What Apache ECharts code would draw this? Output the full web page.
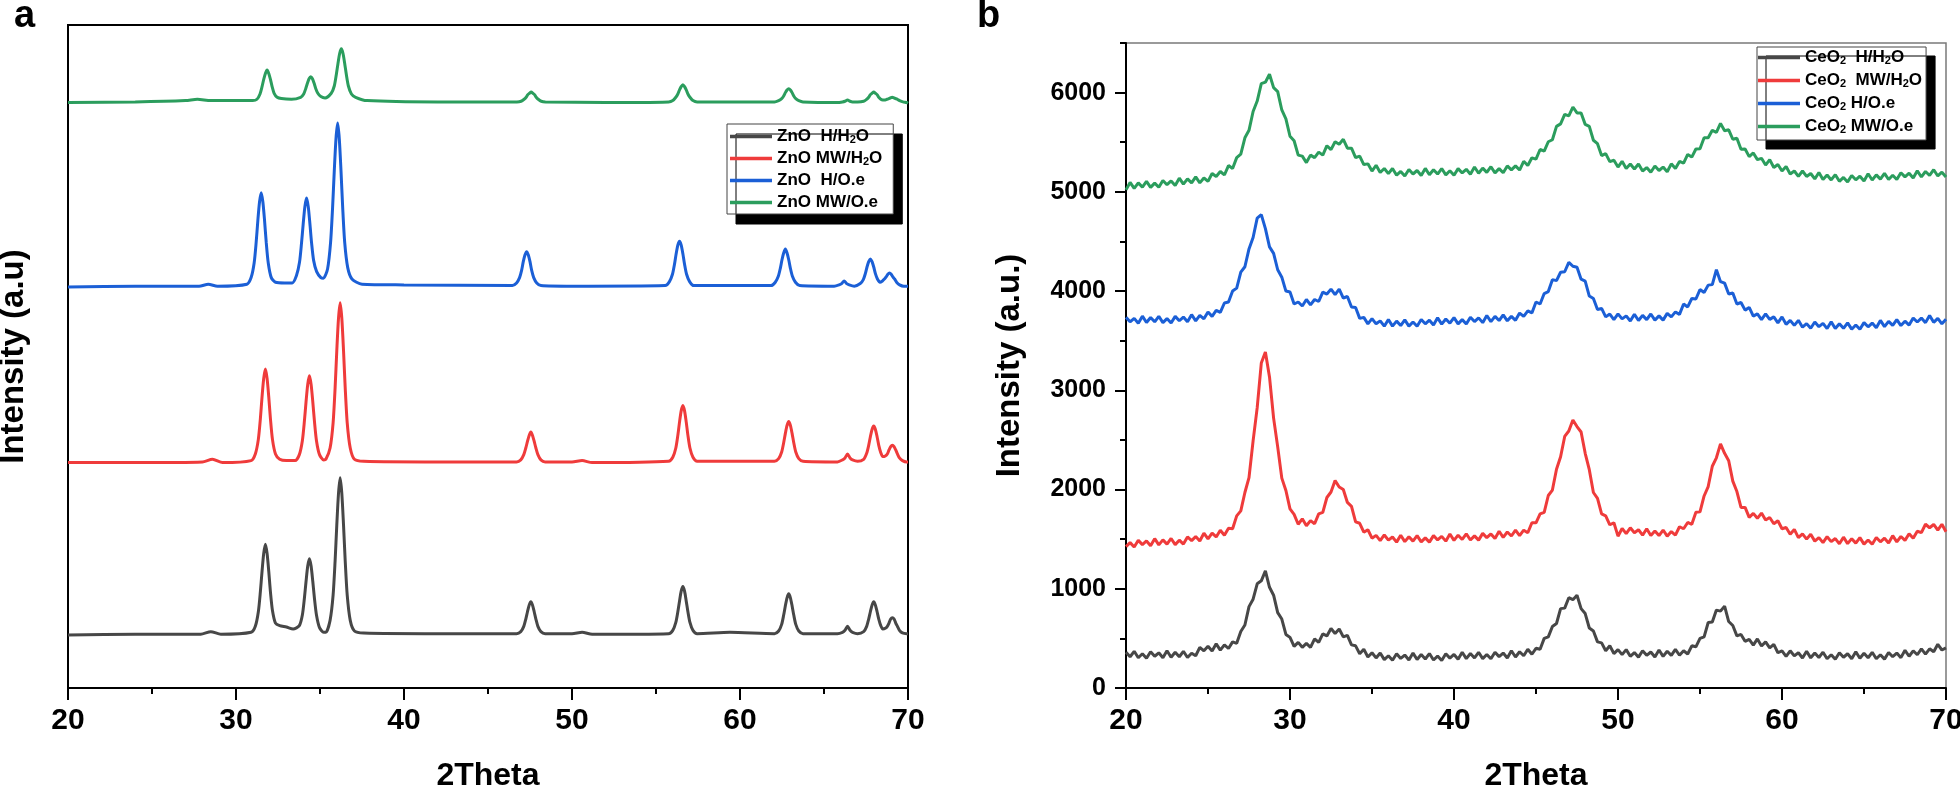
<!DOCTYPE html>
<html>
<head>
<meta charset="utf-8">
<title>XRD patterns ZnO / CeO2</title>
<script src="https://cdn.jsdelivr.net/npm/echarts@6/dist/echarts.min.js"></script>
<style>
  html, body { margin: 0; padding: 0; background: #fff; }
  #chart { width: 1960px; height: 789px; }
</style>
</head>
<body>
<div id="chart"></div>
<script>
// ---------- data ----------
const znoNames = ['ZnO  H/H2O', 'ZnO MW/H2O', 'ZnO  H/O.e', 'ZnO MW/O.e'];
const ceNames = ['CeO2  H/H2O', 'CeO2  MW/H2O', 'CeO2 H/O.e', 'CeO2 MW/O.e'];
const lineColors = ['#474747', '#ef3b3b', '#1b5fd6', '#2b9d5d'];
const ceMajorTicks = [0, 1000, 2000, 3000, 4000, 5000, 6000];
const ceMinorTicks = [500, 1500, 2500, 3500, 4500, 5500, 6500];

// panel a : [2theta, intensity] (stacked patterns, arbitrary units 0..1000)
const znoHH2O = [[20,80],[24,81],[27.9,81],[28.5,85],[29.1,81],[30.9,84],[31.15,93],[31.33,115],[31.45,145],[31.55,176],[31.65,203],[31.75,217],[31.85,203],[31.95,176],[32.05,145],[32.17,117],[32.35,98],[32.6,94],[33.0,92],[33.4,89],[33.77,94],[33.95,110],[34.07,135],[34.17,161],[34.27,184],[34.37,195],[34.47,184],[34.57,161],[34.67,135],[34.79,110],[34.97,91],[35.22,84],[35.35,84],[35.6,102],[35.78,140],[35.9,192],[36.0,246],[36.1,293],[36.2,317],[36.3,293],[36.4,246],[36.5,192],[36.62,140],[36.8,102],[37.05,86],[37.6,83],[42,82],[46.7,82],[46.95,85],[47.13,93],[47.25,104],[47.35,115],[47.45,125],[47.55,130],[47.65,125],[47.75,115],[47.85,104],[47.97,93],[48.15,85],[48.4,82],[50,82],[50.6,84],[51.2,81],[55.75,82],[56.0,87],[56.18,99],[56.3,115],[56.4,131],[56.5,146],[56.6,153],[56.7,146],[56.8,131],[56.9,115],[57.02,99],[57.2,87],[57.45,82],[59.4,84],[62.05,82],[62.3,86],[62.48,96],[62.6,110],[62.7,124],[62.8,136],[62.9,142],[63.0,136],[63.1,124],[63.2,110],[63.32,96],[63.5,86],[63.75,82],[65.8,82],[66.1,84],[66.25,87],[66.4,93],[66.55,87],[66.7,84],[67.0,82],[67.36,85],[67.54,93],[67.66,104],[67.76,115],[67.86,125],[67.96,130],[68.06,125],[68.16,115],[68.26,104],[68.38,94],[68.5,89],[68.65,90],[68.77,93],[68.87,98],[68.97,104],[69.07,106],[69.17,104],[69.27,98],[69.37,93],[69.49,87],[69.67,83],[69.92,82],[70,82]];
const znoMWH2O = [[20,340],[24,340],[28.0,341],[28.6,345],[29.2,340],[30.9,343],[31.15,353],[31.33,375],[31.45,406],[31.55,439],[31.65,467],[31.75,481],[31.85,467],[31.95,439],[32.05,406],[32.17,375],[32.35,353],[32.6,345],[33.0,343],[33.52,343],[33.77,352],[33.95,373],[34.07,402],[34.17,432],[34.27,458],[34.37,471],[34.47,458],[34.57,432],[34.67,402],[34.79,373],[34.97,352],[35.22,344],[35.35,345],[35.6,362],[35.78,400],[35.9,453],[36.0,509],[36.1,557],[36.2,581],[36.3,557],[36.4,509],[36.5,453],[36.62,400],[36.8,362],[37.05,345],[37.6,342],[42,341],[46.7,341],[46.95,344],[47.13,352],[47.25,362],[47.35,372],[47.45,381],[47.55,386],[47.65,381],[47.75,372],[47.85,362],[47.97,352],[48.15,344],[48.4,341],[50,341],[50.6,343],[51.2,340],[55.75,342],[56.0,348],[56.18,362],[56.3,381],[56.4,401],[56.5,418],[56.6,426],[56.7,418],[56.8,401],[56.9,381],[57.02,362],[57.2,348],[57.45,342],[62.05,342],[62.3,346],[62.48,356],[62.6,370],[62.7,384],[62.8,396],[62.9,402],[63.0,396],[63.1,384],[63.2,370],[63.32,356],[63.5,346],[63.75,342],[65.8,341],[66.1,344],[66.25,347],[66.4,353],[66.55,347],[66.7,344],[67.0,342],[67.36,345],[67.54,354],[67.66,366],[67.76,379],[67.86,390],[67.96,395],[68.06,390],[68.16,379],[68.26,366],[68.38,355],[68.5,349],[68.65,350],[68.77,353],[68.87,359],[68.97,364],[69.07,366],[69.17,364],[69.27,359],[69.37,353],[69.49,347],[69.67,343],[69.92,341],[70,341]];
const znoHOe = [[20,605],[24,606],[27.8,606],[28.35,609],[28.9,606],[30.65,609],[30.9,619],[31.08,641],[31.2,672],[31.3,705],[31.4,733],[31.5,747],[31.6,733],[31.7,705],[31.8,672],[31.92,641],[32.1,619],[32.35,612],[32.9,611],[33.35,611],[33.6,622],[33.78,642],[33.9,671],[34.0,700],[34.1,726],[34.2,739],[34.3,726],[34.4,700],[34.5,671],[34.62,645],[34.8,628],[35.05,619],[35.2,618],[35.45,632],[35.63,672],[35.75,725],[35.85,780],[35.95,828],[36.05,852],[36.15,828],[36.25,780],[36.35,725],[36.47,672],[36.65,634],[36.9,617],[37.5,609],[40,608],[46.45,607],[46.7,611],[46.88,619],[47.0,630],[47.1,643],[47.2,653],[47.3,658],[47.4,653],[47.5,643],[47.6,630],[47.72,619],[47.9,611],[48.15,607],[50,606],[55.55,607],[55.8,613],[55.98,624],[56.1,639],[56.2,655],[56.3,668],[56.4,674],[56.5,668],[56.6,655],[56.7,639],[56.82,624],[57.0,613],[57.25,607],[61.85,607],[62.1,612],[62.28,621],[62.4,633],[62.5,646],[62.6,656],[62.7,662],[62.8,656],[62.9,646],[63.0,633],[63.12,621],[63.3,612],[63.55,607],[65.6,606],[65.9,608],[66.05,610],[66.2,614],[66.35,610],[66.5,608],[66.8,606],[67.16,610],[67.34,616],[67.46,625],[67.56,635],[67.66,643],[67.76,647],[67.86,643],[67.96,635],[68.06,625],[68.18,617],[68.33,612],[68.48,614],[68.6,617],[68.7,620],[68.8,624],[68.9,626],[69.0,624],[69.1,620],[69.2,617],[69.32,612],[69.5,608],[69.75,606],[70,606]];
const znoMWOe = [[20,883],[24,884],[27.0,886],[27.7,888],[28.5,886],[30.8,886],[31.0,886],[31.25,888],[31.43,896],[31.55,907],[31.65,918],[31.75,927],[31.85,932],[31.95,927],[32.05,918],[32.15,907],[32.27,897],[32.45,891],[32.7,889],[33.3,888],[33.85,891],[34.03,896],[34.15,904],[34.25,912],[34.35,919],[34.45,922],[34.55,919],[34.65,912],[34.75,904],[34.87,897],[35.05,892],[35.3,890],[35.67,897],[35.85,908],[35.97,925],[36.07,942],[36.17,957],[36.27,964],[36.37,957],[36.47,942],[36.57,925],[36.69,908],[36.87,896],[37.12,891],[37.8,886],[42,884],[46.72,884],[46.97,885],[47.15,888],[47.27,891],[47.37,895],[47.47,897],[47.57,899],[47.67,897],[47.77,895],[47.87,891],[47.99,888],[48.17,885],[48.42,884],[52,883],[55.75,884],[56.0,886],[56.18,891],[56.3,896],[56.4,902],[56.5,907],[56.6,910],[56.7,907],[56.8,902],[56.9,896],[57.02,891],[57.2,886],[57.45,884],[62.05,884],[62.3,886],[62.48,889],[62.6,893],[62.7,898],[62.8,902],[62.9,904],[63.0,902],[63.1,898],[63.2,893],[63.32,889],[63.5,886],[63.75,884],[65.8,883],[66.1,884],[66.25,885],[66.4,887],[66.55,885],[66.7,884],[67.0,884],[67.36,885],[67.54,888],[67.66,891],[67.76,895],[67.86,897],[67.96,899],[68.06,897],[68.16,895],[68.26,891],[68.38,888],[68.5,887],[68.65,887],[68.76,888],[68.86,889],[68.96,890],[69.06,891],[69.16,890],[69.26,889],[69.36,888],[69.5,886],[69.7,884],[69.92,883],[70,882]];

// panel b : 2theta grid and intensities (a.u.)
const ceTheta = [20,20.25,20.5,20.75,21,21.25,21.5,21.75,22,22.25,22.5,22.75,23,23.25,23.5,23.75,24,24.25,24.5,24.75,25,25.25,25.5,25.75,26,26.25,26.5,26.75,27,27.25,27.5,27.75,28,28.25,28.5,28.75,29,29.25,29.5,29.75,30,30.25,30.5,30.75,31,31.25,31.5,31.75,32,32.25,32.5,32.75,33,33.25,33.5,33.75,34,34.25,34.5,34.75,35,35.25,35.5,35.75,36,36.25,36.5,36.75,37,37.25,37.5,37.75,38,38.25,38.5,38.75,39,39.25,39.5,39.75,40,40.25,40.5,40.75,41,41.25,41.5,41.75,42,42.25,42.5,42.75,43,43.25,43.5,43.75,44,44.25,44.5,44.75,45,45.25,45.5,45.75,46,46.25,46.5,46.75,47,47.25,47.5,47.75,48,48.25,48.5,48.75,49,49.25,49.5,49.75,50,50.25,50.5,50.75,51,51.25,51.5,51.75,52,52.25,52.5,52.75,53,53.25,53.5,53.75,54,54.25,54.5,54.75,55,55.25,55.5,55.75,56,56.25,56.5,56.75,57,57.25,57.5,57.75,58,58.25,58.5,58.75,59,59.25,59.5,59.75,60,60.25,60.5,60.75,61,61.25,61.5,61.75,62,62.25,62.5,62.75,63,63.25,63.5,63.75,64,64.25,64.5,64.75,65,65.25,65.5,65.75,66,66.25,66.5,66.75,67,67.25,67.5,67.75,68,68.25,68.5,68.75,69,69.25,69.5,69.75,70];
const ceHH2O = [360,315,370,305,345,300,365,320,355,305,375,310,360,315,370,307,350,325,410,375,420,372,445,382,435,398,465,450,570,635,820,895,1050,1080,1180,1015,935,760,695,540,510,420,460,410,450,410,495,460,545,525,600,550,595,515,530,435,425,345,390,313,355,303,353,286,325,280,345,298,332,282,352,287,337,292,347,282,322,278,345,301,338,289,360,296,347,303,360,296,338,294,360,316,352,303,375,312,365,325,390,340,400,390,500,515,620,650,800,805,910,890,935,800,750,605,575,465,455,375,425,347,387,336,387,319,357,311,375,329,363,313,383,319,370,329,390,330,375,343,425,415,500,515,660,665,785,775,825,670,630,525,540,470,490,432,495,423,465,405,440,355,375,319,375,324,355,302,370,304,353,307,361,295,335,290,355,310,345,295,365,300,350,305,360,295,335,291,358,315,352,306,380,320,375,335,395,342,395,365,440,383,405];
const ceMWH2O = [1425,1465,1420,1488,1445,1482,1433,1505,1442,1493,1450,1507,1445,1490,1450,1522,1485,1526,1482,1560,1503,1560,1522,1590,1540,1610,1605,1735,1785,1970,2120,2490,2825,3275,3385,3135,2720,2430,2115,1990,1805,1750,1650,1705,1635,1687,1655,1755,1770,1920,1975,2090,2025,2000,1870,1830,1675,1660,1570,1595,1510,1538,1485,1542,1490,1522,1470,1540,1475,1525,1480,1535,1472,1513,1470,1536,1492,1528,1480,1552,1488,1540,1497,1554,1491,1533,1490,1558,1515,1553,1506,1580,1518,1572,1532,1592,1535,1590,1565,1665,1665,1755,1770,1940,1995,2205,2330,2535,2590,2700,2635,2580,2365,2200,1970,1910,1755,1735,1645,1665,1530,1608,1555,1614,1565,1595,1540,1605,1537,1583,1536,1592,1530,1576,1540,1625,1605,1668,1650,1770,1775,1935,2030,2235,2320,2460,2365,2290,2085,1980,1820,1820,1720,1760,1710,1763,1692,1718,1655,1685,1605,1618,1550,1598,1515,1553,1500,1549,1480,1515,1465,1525,1475,1506,1453,1520,1455,1505,1460,1515,1450,1492,1449,1516,1473,1510,1462,1535,1473,1527,1488,1555,1510,1580,1565,1650,1615,1648,1590,1650,1575];
const ceHOe = [3735,3690,3725,3676,3747,3683,3734,3690,3746,3682,3723,3679,3745,3701,3738,3690,3762,3700,3755,3720,3790,3745,3805,3785,3880,3890,4000,4030,4190,4245,4425,4540,4735,4770,4630,4445,4380,4215,4140,4000,3990,3870,3890,3850,3915,3860,3915,3895,3990,3970,4020,3965,4020,3930,3945,3840,3835,3725,3735,3670,3722,3670,3700,3646,3713,3647,3697,3653,3710,3647,3689,3646,3713,3670,3707,3659,3730,3667,3719,3676,3733,3670,3712,3669,3736,3693,3730,3682,3754,3692,3745,3703,3761,3700,3745,3705,3778,3745,3800,3780,3890,3870,3975,3995,4115,4105,4190,4195,4290,4250,4240,4120,4100,3950,3925,3815,3825,3740,3768,3713,3770,3720,3750,3698,3767,3703,3755,3712,3769,3707,3750,3707,3775,3740,3790,3765,3870,3840,3925,3920,4015,3985,4060,4065,4215,4095,4080,3970,3980,3870,3885,3808,3835,3748,3770,3713,3770,3715,3740,3680,3740,3665,3705,3654,3705,3636,3672,3625,3688,3641,3674,3622,3690,3623,3671,3625,3680,3616,3658,3615,3682,3640,3678,3631,3704,3642,3695,3654,3713,3652,3697,3657,3728,3688,3728,3682,3755,3685,3725,3670,3715];
const ceMWOe = [5020,5095,5035,5090,5048,5106,5045,5088,5046,5114,5072,5110,5064,5138,5077,5131,5090,5150,5090,5140,5105,5185,5155,5205,5170,5265,5235,5345,5380,5545,5620,5810,5915,6090,6105,6185,6050,6010,5825,5735,5560,5515,5370,5360,5295,5370,5345,5400,5370,5465,5425,5505,5480,5530,5440,5440,5345,5360,5275,5282,5210,5268,5195,5235,5183,5235,5168,5206,5160,5225,5180,5215,5165,5236,5172,5223,5179,5235,5171,5212,5168,5234,5190,5227,5178,5250,5187,5239,5196,5253,5191,5234,5192,5261,5221,5262,5220,5308,5265,5343,5330,5427,5410,5505,5525,5660,5685,5780,5765,5855,5795,5795,5680,5660,5520,5485,5365,5385,5305,5318,5250,5308,5235,5280,5230,5280,5210,5245,5197,5260,5215,5250,5202,5282,5235,5307,5290,5377,5350,5432,5435,5545,5545,5620,5600,5690,5615,5625,5530,5540,5430,5432,5355,5392,5325,5338,5270,5325,5245,5275,5210,5255,5180,5210,5155,5210,5155,5185,5130,5195,5125,5170,5120,5173,5106,5145,5100,5165,5121,5158,5110,5182,5119,5171,5128,5186,5124,5167,5125,5193,5151,5188,5140,5212,5150,5205,5165,5223,5160,5198,5150];

// ---------- chart ----------
const FONT = 'Liberation Sans, Arial, sans-serif';
const chart = echarts.init(document.getElementById('chart'));

const pair = (xs, ys) => xs.map((x, i) => [x, ys[i]]);
const subFmt = name => name.replace(/2/g, '{s|2}');

const legendText = {
  fontFamily: FONT, fontSize: 17, fontWeight: 'bold', color: '#000',
  rich: {
    s: { fontFamily: FONT, fontSize: 11, fontWeight: 'bold', color: '#000', verticalAlign: 'bottom', lineHeight: 11 }
  }
};

const xAxisBase = (grid) => ({
  type: 'value', gridIndex: grid, min: 20, max: 70, interval: 10,
  name: '2Theta', nameLocation: 'middle', nameGap: 72,
  nameTextStyle: { fontFamily: FONT, fontSize: 32, fontWeight: 'bold', color: '#000' },
  axisLine: { show: true, onZero: false, lineStyle: { color: '#000', width: 2 } },
  axisTick: { show: true, length: 12, lineStyle: { color: '#000', width: 2 } },
  minorTick: { show: true, splitNumber: 2, length: 6, lineStyle: { color: '#000', width: 2 } },
  axisLabel: { margin: 18, fontFamily: FONT, fontSize: 30, fontWeight: 'bold', color: '#000' },
  splitLine: { show: false }
});

function lineSeries(name, data, color, xi, yi, smooth, width) {
  return {
    name, type: 'line', data, xAxisIndex: xi, yAxisIndex: yi,
    showSymbol: false, symbol: 'none', smooth: smooth,
    lineStyle: { color, width: width }, itemStyle: { color },
    silent: true, animation: false, z: 3
  };
}

const legendIcon = 'path://M0,0 L42,0 L42,3.5 L0,3.5 Z';

const option = {
  animation: false,
  backgroundColor: '#fff',
  title: [
    { text: 'a', left: 14, top: -2, padding: 0, textStyle: { fontFamily: FONT, fontSize: 38, fontWeight: 'bold', color: '#000' } },
    { text: 'b', left: 977, top: -2, padding: 0, textStyle: { fontFamily: FONT, fontSize: 38, fontWeight: 'bold', color: '#000' } }
  ],
  grid: [
    { left: 68, top: 25, width: 840, height: 663, outerBoundsMode: 'none', containLabel: false,
      show: true, borderColor: '#000', borderWidth: 2, backgroundColor: 'transparent' },
    { left: 1126, top: 43, width: 820, height: 645, outerBoundsMode: 'none', containLabel: false,
      show: true, borderColor: '#7a7a7a', borderWidth: 1.5, backgroundColor: 'transparent' }
  ],
  legend: [
    {
      data: znoNames, orient: 'vertical', left: 727, top: 124, icon: legendIcon,
      itemWidth: 42, itemHeight: 20, itemGap: 5, padding: [4, 11, 3, 3],
      backgroundColor: '#fff', borderColor: '#444', borderWidth: 1,
      shadowColor: '#000', shadowBlur: 0, shadowOffsetX: 9, shadowOffsetY: 10,
      formatter: subFmt, textStyle: legendText, selectedMode: false
    },
    {
      data: ceNames, orient: 'vertical', left: 1757, top: 47, icon: legendIcon,
      itemWidth: 42, itemHeight: 20, itemGap: 6, padding: [2, 4, 5, 1],
      backgroundColor: '#fff', borderColor: '#444', borderWidth: 1,
      shadowColor: '#000', shadowBlur: 0, shadowOffsetX: 9, shadowOffsetY: 9,
      formatter: subFmt, textStyle: legendText, selectedMode: false
    }
  ],
  xAxis: [xAxisBase(0), xAxisBase(1)],
  yAxis: [
    {
      type: 'value', gridIndex: 0, min: 0, max: 1000,
      name: 'Intensity (a.u)', nameLocation: 'middle', nameGap: 38,
      nameTextStyle: { fontFamily: FONT, fontSize: 33, fontWeight: 'bold', color: '#000' },
      axisLine: { show: true, lineStyle: { color: '#000', width: 2 } },
      axisTick: { show: false }, axisLabel: { show: false }, splitLine: { show: false }
    },
    {
      type: 'value', gridIndex: 1, min: 0, max: 6500, interval: 1000, position: 'left',
      name: 'Intensity (a.u.)', nameLocation: 'middle', nameGap: 100,
      nameTextStyle: { fontFamily: FONT, fontSize: 33, fontWeight: 'bold', color: '#000' },
      axisLine: { show: true, lineStyle: { color: '#000', width: 2 } },
      axisTick: { show: true, length: 11, customValues: ceMajorTicks, lineStyle: { color: '#000', width: 2 } },
      axisLabel: {
        margin: 20, customValues: ceMajorTicks, formatter: v => String(v),
        fontFamily: FONT, fontSize: 25, fontWeight: 'bold', color: '#000'
      },
      splitLine: { show: false }
    },
    {
      type: 'value', gridIndex: 1, min: 0, max: 6500, position: 'left', offset: 0,
      axisLine: { show: false },
      axisTick: { show: true, length: 6, customValues: ceMinorTicks, lineStyle: { color: '#000', width: 2 } },
      axisLabel: { show: false }, splitLine: { show: false }
    }
  ],
  series: [
    lineSeries(znoNames[0], znoHH2O, lineColors[0], 0, 0, 0.25, 3),
    lineSeries(znoNames[1], znoMWH2O, lineColors[1], 0, 0, 0.25, 3),
    lineSeries(znoNames[2], znoHOe, lineColors[2], 0, 0, 0.25, 3),
    lineSeries(znoNames[3], znoMWOe, lineColors[3], 0, 0, 0.25, 3),
    lineSeries(ceNames[0], pair(ceTheta, ceHH2O), lineColors[0], 1, 1, false, 3),
    lineSeries(ceNames[1], pair(ceTheta, ceMWH2O), lineColors[1], 1, 1, false, 3),
    lineSeries(ceNames[2], pair(ceTheta, ceHOe), lineColors[2], 1, 1, false, 3),
    lineSeries(ceNames[3], pair(ceTheta, ceMWOe), lineColors[3], 1, 1, false, 3)
  ]
};

chart.setOption(option);
window.addEventListener('resize', () => chart.resize());
</script>
</body>
</html>
